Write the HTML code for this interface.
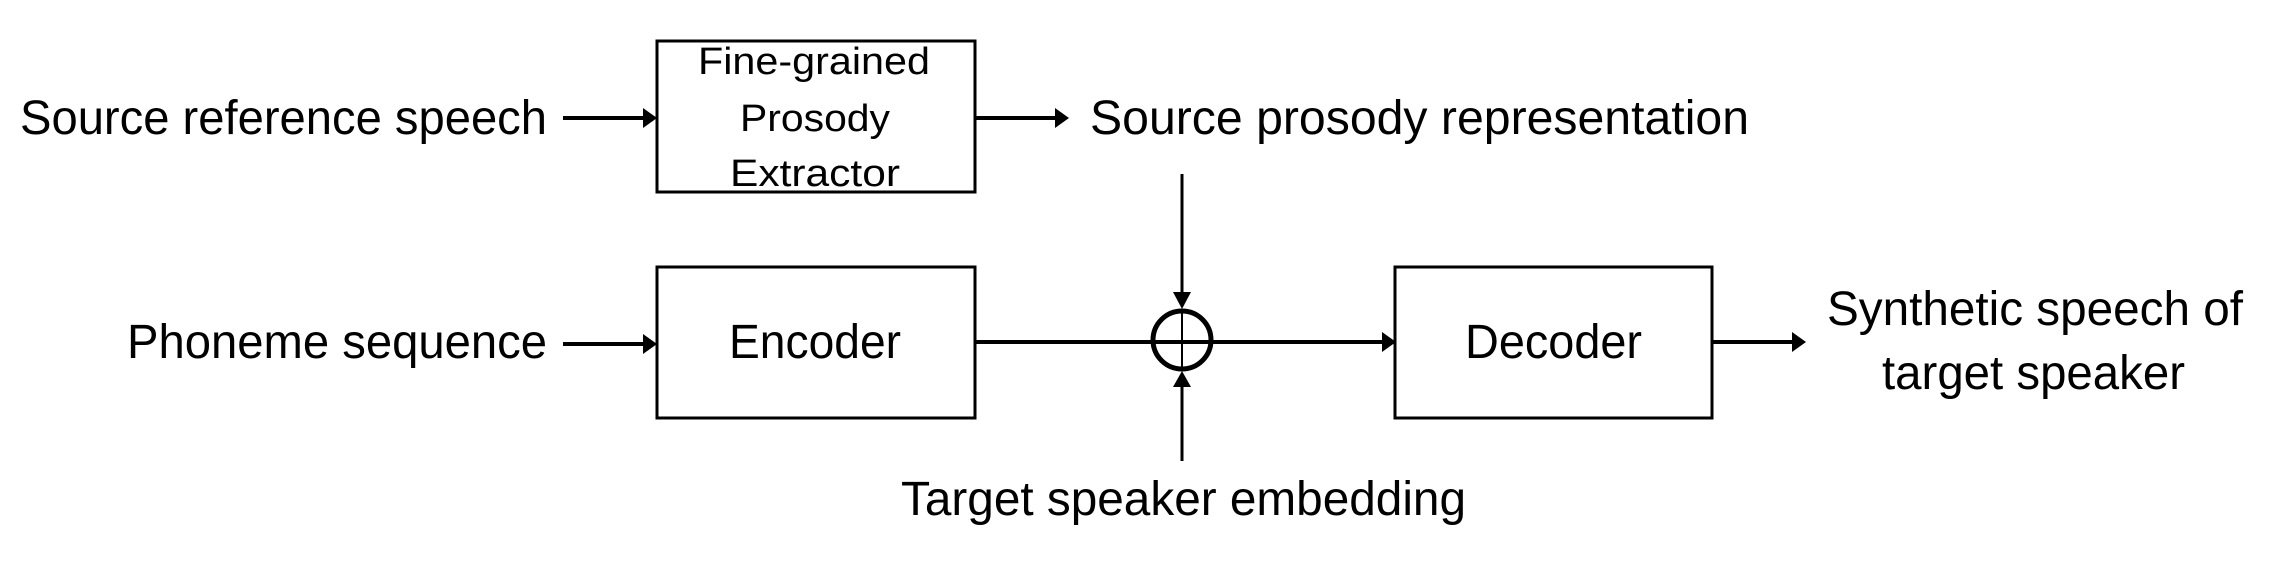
<!DOCTYPE html>
<html><head><meta charset="utf-8"><style>
html,body{margin:0;padding:0;background:#fff;}
svg{display:block}
text{font-family:"Liberation Sans",sans-serif;fill:#000}
</style></head><body>
<svg width="2270" height="567" viewBox="0 0 2270 567" xmlns="http://www.w3.org/2000/svg">
<rect x="0" y="0" width="2270" height="567" fill="#fff"/>
<g fill="none" stroke="#000" stroke-width="3">
<rect x="657" y="41" width="318" height="151"/>
<rect x="657" y="267" width="318" height="151"/>
<rect x="1395" y="267" width="317" height="151"/>
</g>
<g stroke="#000" stroke-width="4">
<line x1="563" y1="118" x2="645" y2="118"/>
<line x1="975" y1="118" x2="1057" y2="118"/>
<line x1="563" y1="344" x2="645" y2="344"/>
<line x1="975" y1="342" x2="1384" y2="342"/>
<line x1="1712" y1="342" x2="1794" y2="342"/>
</g>
<g stroke="#000" stroke-width="3">
<line x1="1182" y1="174" x2="1182" y2="296"/>
<line x1="1182" y1="383" x2="1182" y2="461"/>
</g>
<line x1="1182" y1="310" x2="1182" y2="370" stroke="#000" stroke-width="2"/>
<circle cx="1182" cy="340" r="29" fill="none" stroke="#000" stroke-width="5"/>
<g fill="#000">
<polygon points="643,108 657,118 643,128"/>
<polygon points="1055,108 1069,118 1055,128"/>
<polygon points="643,334 657,344 643,354"/>
<polygon points="1382,332 1396,342 1382,352"/>
<polygon points="1792,332 1806,342 1792,352"/>
<polygon points="1173,292 1191,292 1182,309"/>
<polygon points="1173,387 1191,387 1182,371"/>
</g>
<g font-size="48">
<text x="20" y="134" textLength="527" lengthAdjust="spacingAndGlyphs">Source reference speech</text>
<text x="1090" y="134" textLength="659" lengthAdjust="spacingAndGlyphs">Source prosody representation</text>
<text x="127" y="358" textLength="420" lengthAdjust="spacingAndGlyphs">Phoneme sequence</text>
<text x="901" y="515" textLength="565" lengthAdjust="spacingAndGlyphs">Target speaker embedding</text>
<text x="1827" y="325" textLength="416" lengthAdjust="spacingAndGlyphs">Synthetic speech of</text>
<text x="1882" y="389" textLength="303" lengthAdjust="spacingAndGlyphs">target speaker</text>
<text x="729" y="358" textLength="172" lengthAdjust="spacingAndGlyphs">Encoder</text>
<text x="1465" y="358" textLength="177" lengthAdjust="spacingAndGlyphs">Decoder</text>
</g>
<g font-size="38">
<text x="698" y="74" textLength="232" lengthAdjust="spacingAndGlyphs">Fine-grained</text>
<text x="740" y="131" textLength="150" lengthAdjust="spacingAndGlyphs">Prosody</text>
<text x="730" y="186" textLength="170" lengthAdjust="spacingAndGlyphs">Extractor</text>
</g>
</svg>
</body></html>
